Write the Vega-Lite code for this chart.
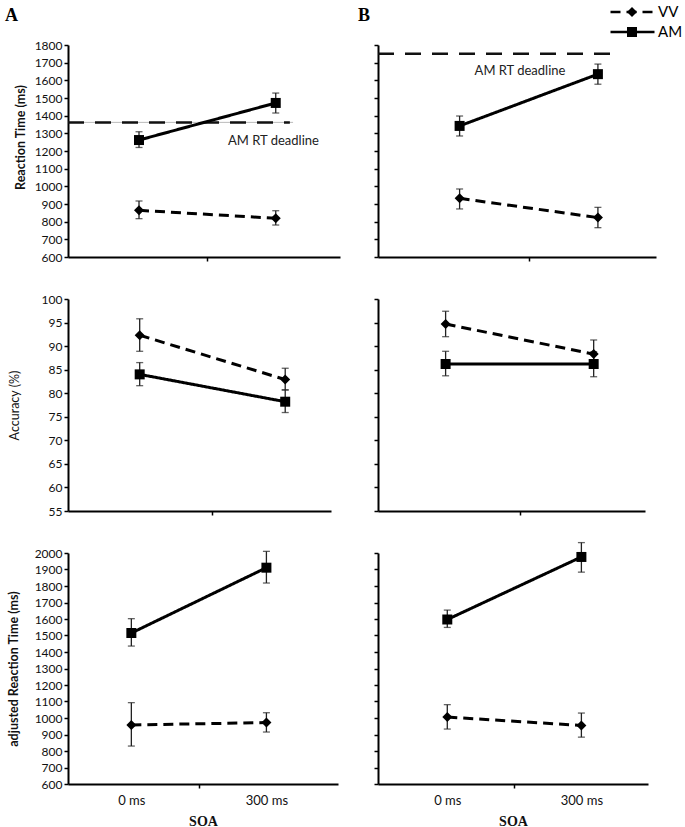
{
  "$schema": "https://vega.github.io/schema/vega-lite/v6.json",
  "background": "white",
  "padding": {"left": 5, "top": 2, "right": 0, "bottom": 0},
  "columns": 2,
  "spacing": {"row": 42, "column": 38},
  "bounds": "flush",
  "align": "each",
  "config": {
    "font": "Lato",
    "view": {"stroke": null},
    "axis": {"grid": false, "domainColor": "black", "domainWidth": 2, "tickColor": "black", "tickWidth": 1.5, "tickSize": 4, "labelFont": "Lato", "labelFontSize": 12, "labelColor": "#111", "labelPadding": 2, "titleFont": "Lato", "titleFontSize": 12.5, "titleColor": "#111", "format": "d"}
  },
  "datasets": {
    "d": [
      {"panel": "A1", "series": "AM", "soa": 0, "mean": 1262, "lo": 1220, "hi": 1309},
      {"panel": "A1", "series": "AM", "soa": 300, "mean": 1472, "lo": 1415, "hi": 1528},
      {"panel": "A1", "series": "VV", "soa": 0, "mean": 864, "lo": 817, "hi": 917},
      {"panel": "A1", "series": "VV", "soa": 300, "mean": 819, "lo": 781, "hi": 862},
      {"panel": "B1", "series": "AM", "soa": 0, "mean": 1342, "lo": 1285, "hi": 1398},
      {"panel": "B1", "series": "AM", "soa": 300, "mean": 1635, "lo": 1578, "hi": 1692},
      {"panel": "B1", "series": "VV", "soa": 0, "mean": 932, "lo": 872, "hi": 985},
      {"panel": "B1", "series": "VV", "soa": 300, "mean": 823, "lo": 766, "hi": 881},
      {"panel": "A2", "series": "VV", "soa": 0, "mean": 92.3, "lo": 88.9, "hi": 95.8},
      {"panel": "A2", "series": "AM", "soa": 0, "mean": 84.0, "lo": 81.6, "hi": 86.5},
      {"panel": "A2", "series": "VV", "soa": 300, "mean": 82.9, "lo": 80.7, "hi": 85.3},
      {"panel": "A2", "series": "AM", "soa": 300, "mean": 78.2, "lo": 75.9, "hi": 80.7},
      {"panel": "B2", "series": "VV", "soa": 0, "mean": 94.7, "lo": 92.0, "hi": 97.4},
      {"panel": "B2", "series": "AM", "soa": 0, "mean": 86.2, "lo": 83.7, "hi": 88.9},
      {"panel": "B2", "series": "VV", "soa": 300, "mean": 88.3, "lo": 85.5, "hi": 91.3},
      {"panel": "B2", "series": "AM", "soa": 300, "mean": 86.2, "lo": 83.5, "hi": 88.8},
      {"panel": "A3", "series": "AM", "soa": 0, "mean": 1515, "lo": 1436, "hi": 1602},
      {"panel": "A3", "series": "AM", "soa": 300, "mean": 1911, "lo": 1818, "hi": 2010},
      {"panel": "A3", "series": "VV", "soa": 0, "mean": 958, "lo": 830, "hi": 1093},
      {"panel": "A3", "series": "VV", "soa": 300, "mean": 972, "lo": 915, "hi": 1032},
      {"panel": "B3", "series": "AM", "soa": 0, "mean": 1597, "lo": 1549, "hi": 1654},
      {"panel": "B3", "series": "AM", "soa": 300, "mean": 1976, "lo": 1884, "hi": 2063},
      {"panel": "B3", "series": "VV", "soa": 0, "mean": 1006, "lo": 933, "hi": 1081},
      {"panel": "B3", "series": "VV", "soa": 300, "mean": 955, "lo": 884, "hi": 1030}
    ]
  },
  "concat": [
    {
      "width": 272, "height": 212,
      "title": {"text": "A", "anchor": "start", "frame": "group", "dx": -63, "offset": 14, "font": "Liberation Serif", "fontSize": 18, "fontWeight": "bold", "color": "black"},
      "layer": [
        {"data": {"values": [{}]}, "mark": {"type": "rule", "color": "#aaa", "strokeWidth": 0.8}, "encoding": {"x": {"datum": -155.8, "type": "quantitative", "axis": {"title": null, "values": [150], "labels": false}}, "x2": {"datum": 338}, "y": {"datum": 1362, "type": "quantitative", "axis": {"title": "Reaction Time (ms)", "titleFontWeight": "bold", "titlePadding": 7, "titleY": 92, "values": [600, 700, 800, 900, 1000, 1100, 1200, 1300, 1400, 1500, 1600, 1700, 1800]}}}},
        {"data": {"values": [{}]}, "mark": {"type": "rule", "color": "#111", "strokeWidth": 2.5, "strokeDash": [16, 11]}, "encoding": {"x": {"datum": -155.8, "type": "quantitative", "axis": {"title": null, "values": [150], "labels": false}}, "x2": {"datum": 331}, "y": {"datum": 1362, "type": "quantitative", "axis": {"title": "Reaction Time (ms)", "titleFontWeight": "bold", "titlePadding": 7, "titleY": 92, "values": [600, 700, 800, 900, 1000, 1100, 1200, 1300, 1400, 1500, 1600, 1700, 1800]}}}},
        {"data": {"values": [{}]}, "mark": {"type": "text", "text": "AM  RT deadline", "font": "Lato", "fontSize": 13, "color": "#222"}, "encoding": {"x": {"datum": 295, "type": "quantitative", "axis": {"title": null, "values": [150], "labels": false}}, "y": {"datum": 1257, "type": "quantitative", "axis": {"title": "Reaction Time (ms)", "titleFontWeight": "bold", "titlePadding": 7, "titleY": 92, "values": [600, 700, 800, 900, 1000, 1100, 1200, 1300, 1400, 1500, 1600, 1700, 1800]}}}},
        {
          "data": {"name": "d"},
          "transform": [{"filter": "datum.panel === 'A1'"}],
          "encoding": {
            "x": {"field": "soa", "type": "quantitative", "scale": {"domain": [-155.8, 441], "nice": false, "zero": false}, "axis": {"title": null, "values": [150], "labels": false}},
            "y": {"field": "mean", "type": "quantitative", "scale": {"domain": [600, 1800], "nice": false, "zero": false}, "axis": {"title": "Reaction Time (ms)", "titleFontWeight": "bold", "titlePadding": 7, "titleY": 92, "values": [600, 700, 800, 900, 1000, 1100, 1200, 1300, 1400, 1500, 1600, 1700, 1800]}}
          },
          "layer": [
            {"mark": {"type": "errorbar", "color": "#222", "ticks": {"size": 7, "thickness": 1.3}, "rule": {"strokeWidth": 1.3}}, "encoding": {"y": {"field": "lo", "type": "quantitative"}, "y2": {"field": "hi"}}},
            {"mark": {"type": "line", "color": "black", "strokeWidth": 3}, "encoding": {"strokeDash": {"field": "series", "type": "nominal", "scale": {"domain": ["VV", "AM"], "range": [[10, 6], [1, 0]]},
              "legend": {"orient": "none", "legendX": 541, "legendY": -43, "title": null, "symbolType": "stroke", "symbolSize": 1936, "symbolStrokeWidth": 2.5, "symbolStrokeColor": "black", "clipHeight": 20, "rowPadding": 0, "padding": 0, "labelOffset": 2, "labelFont": "Lato", "labelFontSize": 15, "labelColor": "black"}}}},
            {"mark": {"type": "point", "filled": true, "size": 100, "color": "black", "opacity": 1}, "encoding": {"shape": {"field": "series", "type": "nominal", "scale": {"domain": ["AM", "VV"], "range": ["square", "diamond"]},
              "legend": {"orient": "none", "legendX": 559, "legendY": -43, "title": null, "values": ["VV", "AM"], "symbolSize": 100, "symbolStrokeWidth": 0, "symbolFillColor": "black", "clipHeight": 20, "rowPadding": 0, "padding": 0, "labelFontSize": 10, "labelOpacity": 0}}}}
          ]
        }
      ]
    },
    {
      "width": 278, "height": 212,
      "title": {"text": "B", "anchor": "start", "frame": "group", "dx": -20, "offset": 19, "font": "Liberation Serif", "fontSize": 18, "fontWeight": "bold", "color": "black"},
      "layer": [
        {"data": {"values": [{}]}, "mark": {"type": "rule", "color": "#111", "strokeWidth": 2.5, "strokeDash": [16, 11]}, "encoding": {"x": {"datum": -177, "type": "quantitative", "axis": {"title": null, "values": [150], "labels": false}}, "x2": {"datum": 339}, "y": {"datum": 1750, "type": "quantitative", "axis": {"title": null, "labels": false, "values": [600, 700, 800, 900, 1000, 1100, 1200, 1300, 1400, 1500, 1600, 1700, 1800]}}}},
        {"data": {"values": [{}]}, "mark": {"type": "text", "text": "AM  RT deadline", "font": "Lato", "fontSize": 13, "color": "#222"}, "encoding": {"x": {"datum": 131, "type": "quantitative", "axis": {"title": null, "values": [150], "labels": false}}, "y": {"datum": 1653, "type": "quantitative", "axis": {"title": null, "labels": false, "values": [600, 700, 800, 900, 1000, 1100, 1200, 1300, 1400, 1500, 1600, 1700, 1800]}}}},
        {
          "data": {"name": "d"},
          "transform": [{"filter": "datum.panel === 'B1'"}],
          "encoding": {
            "x": {"field": "soa", "type": "quantitative", "scale": {"domain": [-177, 426], "nice": false, "zero": false}, "axis": {"title": null, "values": [150], "labels": false}},
            "y": {"field": "mean", "type": "quantitative", "scale": {"domain": [600, 1800], "nice": false, "zero": false}, "axis": {"title": null, "labels": false, "values": [600, 700, 800, 900, 1000, 1100, 1200, 1300, 1400, 1500, 1600, 1700, 1800]}}
          },
          "layer": [
            {"mark": {"type": "errorbar", "color": "#222", "ticks": {"size": 7, "thickness": 1.3}, "rule": {"strokeWidth": 1.3}}, "encoding": {"y": {"field": "lo", "type": "quantitative"}, "y2": {"field": "hi"}}},
            {"mark": {"type": "line", "color": "black", "strokeWidth": 3}, "encoding": {"strokeDash": {"field": "series", "type": "nominal", "scale": {"domain": ["VV", "AM"], "range": [[10, 6], [1, 0]]},
              "legend": {"orient": "none", "legendX": 541, "legendY": -43, "title": null, "symbolType": "stroke", "symbolSize": 1936, "symbolStrokeWidth": 2.5, "symbolStrokeColor": "black", "clipHeight": 20, "rowPadding": 0, "padding": 0, "labelOffset": 2, "labelFont": "Lato", "labelFontSize": 15, "labelColor": "black"}}}},
            {"mark": {"type": "point", "filled": true, "size": 100, "color": "black", "opacity": 1}, "encoding": {"shape": {"field": "series", "type": "nominal", "scale": {"domain": ["AM", "VV"], "range": ["square", "diamond"]},
              "legend": {"orient": "none", "legendX": 559, "legendY": -43, "title": null, "values": ["VV", "AM"], "symbolSize": 100, "symbolStrokeWidth": 0, "symbolFillColor": "black", "clipHeight": 20, "rowPadding": 0, "padding": 0, "labelFontSize": 10, "labelOpacity": 0}}}}
          ]
        }
      ]
    },
    {
      "width": 263, "height": 212,
      "data": {"name": "d"},
      "transform": [{"filter": "datum.panel === 'A2'"}],
      "encoding": {
        "x": {"field": "soa", "type": "quantitative", "scale": {"domain": [-147.8, 394.4], "nice": false, "zero": false}, "axis": {"title": null, "values": [150], "labels": false}},
        "y": {"field": "mean", "type": "quantitative", "scale": {"domain": [55, 100], "nice": false, "zero": false}, "axis": {"title": "Accuracy (%)", "titleFontWeight": "normal", "titlePadding": 20, "values": [55, 60, 65, 70, 75, 80, 85, 90, 95, 100]}}
      },
      "layer": [
        {"mark": {"type": "errorbar", "color": "#222", "ticks": {"size": 7, "thickness": 1.3}, "rule": {"strokeWidth": 1.3}}, "encoding": {"y": {"field": "lo", "type": "quantitative"}, "y2": {"field": "hi"}}},
        {"mark": {"type": "line", "color": "black", "strokeWidth": 3}, "encoding": {"strokeDash": {"field": "series", "type": "nominal", "scale": {"domain": ["VV", "AM"], "range": [[10, 6], [1, 0]]},
          "legend": {"orient": "none", "legendX": 541, "legendY": -43, "title": null, "symbolType": "stroke", "symbolSize": 1936, "symbolStrokeWidth": 2.5, "symbolStrokeColor": "black", "clipHeight": 20, "rowPadding": 0, "padding": 0, "labelOffset": 2, "labelFont": "Lato", "labelFontSize": 15, "labelColor": "black"}}}},
        {"mark": {"type": "point", "filled": true, "size": 100, "color": "black", "opacity": 1}, "encoding": {"shape": {"field": "series", "type": "nominal", "scale": {"domain": ["AM", "VV"], "range": ["square", "diamond"]},
          "legend": {"orient": "none", "legendX": 559, "legendY": -43, "title": null, "values": ["VV", "AM"], "symbolSize": 100, "symbolStrokeWidth": 0, "symbolFillColor": "black", "clipHeight": 20, "rowPadding": 0, "padding": 0, "labelFontSize": 10, "labelOpacity": 0}}}}
      ]
    },
    {
      "width": 267, "height": 212,
      "data": {"name": "d"},
      "transform": [{"filter": "datum.panel === 'B2'"}],
      "encoding": {
        "x": {"field": "soa", "type": "quantitative", "scale": {"domain": [-137, 404], "nice": false, "zero": false}, "axis": {"title": null, "values": [150], "labels": false}},
        "y": {"field": "mean", "type": "quantitative", "scale": {"domain": [55, 100], "nice": false, "zero": false}, "axis": {"title": null, "labels": false, "values": [55, 60, 65, 70, 75, 80, 85, 90, 95, 100]}}
      },
      "layer": [
        {"mark": {"type": "errorbar", "color": "#222", "ticks": {"size": 7, "thickness": 1.3}, "rule": {"strokeWidth": 1.3}}, "encoding": {"y": {"field": "lo", "type": "quantitative"}, "y2": {"field": "hi"}}},
        {"mark": {"type": "line", "color": "black", "strokeWidth": 3}, "encoding": {"strokeDash": {"field": "series", "type": "nominal", "scale": {"domain": ["VV", "AM"], "range": [[10, 6], [1, 0]]},
          "legend": {"orient": "none", "legendX": 541, "legendY": -43, "title": null, "symbolType": "stroke", "symbolSize": 1936, "symbolStrokeWidth": 2.5, "symbolStrokeColor": "black", "clipHeight": 20, "rowPadding": 0, "padding": 0, "labelOffset": 2, "labelFont": "Lato", "labelFontSize": 15, "labelColor": "black"}}}},
        {"mark": {"type": "point", "filled": true, "size": 100, "color": "black", "opacity": 1}, "encoding": {"shape": {"field": "series", "type": "nominal", "scale": {"domain": ["AM", "VV"], "range": ["square", "diamond"]},
          "legend": {"orient": "none", "legendX": 559, "legendY": -43, "title": null, "values": ["VV", "AM"], "symbolSize": 100, "symbolStrokeWidth": 0, "symbolFillColor": "black", "clipHeight": 20, "rowPadding": 0, "padding": 0, "labelFontSize": 10, "labelOpacity": 0}}}}
      ]
    },
    {
      "width": 270, "height": 231,
      "data": {"name": "d"},
      "transform": [{"filter": "datum.panel === 'A3'"}],
      "encoding": {
        "x": {"field": "soa", "type": "quantitative", "scale": {"domain": [-140.7, 459], "nice": false, "zero": false}, "axis": {"title": "SOA", "values": [0, 150, 300], "labelExpr": "datum.value === 150 ? '' : datum.value + ' ms'", "tickOpacity": {"condition": {"test": "datum.value !== 150", "value": 0}, "value": 1}, "labelFontSize": 13, "labelPadding": 6, "labelOverlap": false, "titleFont": "Liberation Serif", "titleFontSize": 14, "titleFontWeight": "bold", "titlePadding": 7}},
        "y": {"field": "mean", "type": "quantitative", "scale": {"domain": [600, 2000], "nice": false, "zero": false}, "axis": {"title": "adjusted Reaction Time (ms)", "titleFontWeight": "bold", "titlePadding": 14, "values": [600, 700, 800, 900, 1000, 1100, 1200, 1300, 1400, 1500, 1600, 1700, 1800, 1900, 2000]}}
      },
      "layer": [
        {"mark": {"type": "errorbar", "color": "#222", "ticks": {"size": 7, "thickness": 1.3}, "rule": {"strokeWidth": 1.3}}, "encoding": {"y": {"field": "lo", "type": "quantitative"}, "y2": {"field": "hi"}}},
        {"mark": {"type": "line", "color": "black", "strokeWidth": 3}, "encoding": {"strokeDash": {"field": "series", "type": "nominal", "scale": {"domain": ["VV", "AM"], "range": [[10, 6], [1, 0]]},
          "legend": {"orient": "none", "legendX": 541, "legendY": -43, "title": null, "symbolType": "stroke", "symbolSize": 1936, "symbolStrokeWidth": 2.5, "symbolStrokeColor": "black", "clipHeight": 20, "rowPadding": 0, "padding": 0, "labelOffset": 2, "labelFont": "Lato", "labelFontSize": 15, "labelColor": "black"}}}},
        {"mark": {"type": "point", "filled": true, "size": 100, "color": "black", "opacity": 1}, "encoding": {"shape": {"field": "series", "type": "nominal", "scale": {"domain": ["AM", "VV"], "range": ["square", "diamond"]},
          "legend": {"orient": "none", "legendX": 559, "legendY": -43, "title": null, "values": ["VV", "AM"], "symbolSize": 100, "symbolStrokeWidth": 0, "symbolFillColor": "black", "clipHeight": 20, "rowPadding": 0, "padding": 0, "labelFontSize": 10, "labelOpacity": 0}}}}
      ]
    },
    {
      "width": 270, "height": 231,
      "data": {"name": "d"},
      "transform": [{"filter": "datum.panel === 'B3'"}],
      "encoding": {
        "x": {"field": "soa", "type": "quantitative", "scale": {"domain": [-155, 449], "nice": false, "zero": false}, "axis": {"title": "SOA", "values": [0, 150, 300], "labelExpr": "datum.value === 150 ? '' : datum.value + ' ms'", "tickOpacity": {"condition": {"test": "datum.value !== 150", "value": 0}, "value": 1}, "labelFontSize": 13, "labelPadding": 6, "labelOverlap": false, "titleFont": "Liberation Serif", "titleFontSize": 14, "titleFontWeight": "bold", "titlePadding": 7}},
        "y": {"field": "mean", "type": "quantitative", "scale": {"domain": [600, 2000], "nice": false, "zero": false}, "axis": {"title": null, "labels": false, "values": [600, 700, 800, 900, 1000, 1100, 1200, 1300, 1400, 1500, 1600, 1700, 1800, 1900, 2000]}}
      },
      "layer": [
        {"mark": {"type": "errorbar", "color": "#222", "ticks": {"size": 7, "thickness": 1.3}, "rule": {"strokeWidth": 1.3}}, "encoding": {"y": {"field": "lo", "type": "quantitative"}, "y2": {"field": "hi"}}},
        {"mark": {"type": "line", "color": "black", "strokeWidth": 3}, "encoding": {"strokeDash": {"field": "series", "type": "nominal", "scale": {"domain": ["VV", "AM"], "range": [[10, 6], [1, 0]]},
          "legend": {"orient": "none", "legendX": 541, "legendY": -43, "title": null, "symbolType": "stroke", "symbolSize": 1936, "symbolStrokeWidth": 2.5, "symbolStrokeColor": "black", "clipHeight": 20, "rowPadding": 0, "padding": 0, "labelOffset": 2, "labelFont": "Lato", "labelFontSize": 15, "labelColor": "black"}}}},
        {"mark": {"type": "point", "filled": true, "size": 100, "color": "black", "opacity": 1}, "encoding": {"shape": {"field": "series", "type": "nominal", "scale": {"domain": ["AM", "VV"], "range": ["square", "diamond"]},
          "legend": {"orient": "none", "legendX": 559, "legendY": -43, "title": null, "values": ["VV", "AM"], "symbolSize": 100, "symbolStrokeWidth": 0, "symbolFillColor": "black", "clipHeight": 20, "rowPadding": 0, "padding": 0, "labelFontSize": 10, "labelOpacity": 0}}}}
      ]
    }
  ]
}
